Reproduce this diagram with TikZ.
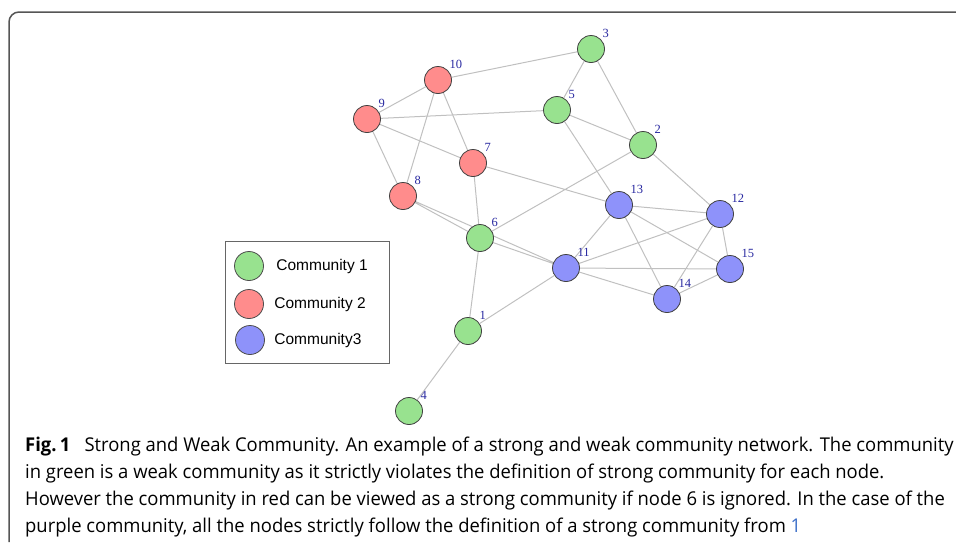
\documentclass[tikz,border=0pt]{standalone}
\usepackage{fontspec}
\setmainfont{Liberation Serif}
\newfontfamily\legendfont{Liberation Sans}
\newfontfamily\capfont[FakeStretch=0.97]{Open Sans}
\usepackage{tikz}
\usetikzlibrary{positioning, backgrounds}
\definecolor{comgreen}      {RGB}{152, 226, 143}
\definecolor{comred}        {RGB}{255, 140, 140}
\definecolor{comblue}       {RGB}{142, 146, 250}
\definecolor{edgegray}      {RGB}{192, 192, 192}
\definecolor{labelblue}     {RGB}{ 40,  40, 160}
\definecolor{framegray}     {RGB}{ 85,  85,  85}
\definecolor{citeblue}      {RGB}{ 60, 110, 200}

\begin{document}
\begin{tikzpicture}[x=1pt,y=-1pt,
		vertex/.style={circle,draw=black!75,line width=0.8pt,minimum size=27pt,inner sep=0pt},
		num/.style={font=\fontsize{12.5}{12.5}\selectfont,text=labelblue,inner sep=1.5pt},
		link/.style={draw=edgegray,line width=1pt},
		legdot/.style={circle,draw=black!70,line width=0.8pt,minimum size=29pt,inner sep=0pt},
		legtext/.style={font=\legendfont\fontsize{15.5}{15.5}\selectfont},
		captxt/.style={anchor=base west,inner sep=0pt,font=\capfont\fontsize{19}{19}\selectfont}]
	\useasboundingbox (0,0) rectangle (956,542);
	% outer frame, open at the right and at the bottom
	\draw[framegray,line width=1.5pt,rounded corners=10pt] (9,542)--(9,12)--(956,12);

	% network
	\node[vertex,fill=comgreen,label={[num]45:1}]  (n1)  at (468,331) {};
	\node[vertex,fill=comgreen,label={[num]45:2}]  (n2)  at (643,145) {};
	\node[vertex,fill=comgreen,label={[num]45:3}]  (n3)  at (591,49)  {};
	\node[vertex,fill=comgreen,label={[num]45:4}]  (n4)  at (409,411) {};
	\node[vertex,fill=comgreen,label={[num]45:5}]  (n5)  at (557,110) {};
	\node[vertex,fill=comgreen,label={[num]45:6}]  (n6)  at (480,238) {};
	\node[vertex,fill=comred,label={[num]45:7}]    (n7)  at (473,163) {};
	\node[vertex,fill=comred,label={[num]45:8}]    (n8)  at (403,196) {};
	\node[vertex,fill=comred,label={[num]45:9}]    (n9)  at (367,119) {};
	\node[vertex,fill=comred,label={[num]45:10}]   (n10) at (438,80)  {};
	\node[vertex,fill=comblue,label={[num]45:11}]  (n11) at (566,268) {};
	\node[vertex,fill=comblue,label={[num]45:12}]  (n12) at (720,214) {};
	\node[vertex,fill=comblue,label={[num]45:13}]  (n13) at (619,205) {};
	\node[vertex,fill=comblue,label={[num]45:14}]  (n14) at (667,299) {};
	\node[vertex,fill=comblue,label={[num]45:15}]  (n15) at (730,269) {};
	\begin{scope}[on background layer]
		\draw[link] (n10)--(n3) (n10)--(n9) (n10)--(n8) (n10)--(n7);
		\draw[link] (n9)--(n5) (n9)--(n7) (n9)--(n8);
		\draw[link] (n3)--(n5) (n3)--(n2) (n5)--(n2) (n5)--(n13);
		\draw[link] (n2)--(n6) (n2)--(n12) (n7)--(n6) (n7)--(n13);
		\draw[link] (n8)--(n6) (n8)--(n11) (n6)--(n11) (n6)--(n1);
		\draw[link] (n1)--(n4) (n1)--(n11);
		\draw[link] (n11)--(n13) (n11)--(n12) (n11)--(n15) (n11)--(n14);
		\draw[link] (n13)--(n12) (n13)--(n15) (n13)--(n14);
		\draw[link] (n12)--(n15) (n12)--(n14) (n14)--(n15);
	\end{scope}

	% legend
	\draw[black!60,line width=0.8pt] (225,241) rectangle (389,363);
	\node[legdot,fill=comgreen] (leg1) at (249,266) {};
	\node[legdot,fill=comred]   (leg2) at (249,304) {};
	\node[legdot,fill=comblue]  (leg3) at (250,340) {};
	\node[legtext,right=9pt of leg1] (legtxt1) {Community 1};
	\node[legtext,right=7pt of leg2] (legtxt2) {Community 2};
	\node[legtext,right=6pt of leg3] (legtxt3) {Community3};

	% caption
	\node[captxt] (cap1) at (25,451) {\textbf{Fig.\,1}\hspace{0.75em}Strong and Weak Community. An example of a strong and weak community network. The community};
	\node[captxt] (cap2) at (25,478) {in green is a weak community as it strictly violates the definition of strong community for each node.};
	\node[captxt] (cap3) at (25,505.5) {However the community in red can be viewed as a strong community if node 6 is ignored. In the case of the};
	\node[captxt] (cap4) at (25,532.5) {purple community, all the nodes strictly follow the definition of a strong community from \textcolor{citeblue}{1}};
\end{tikzpicture}
\end{document}
